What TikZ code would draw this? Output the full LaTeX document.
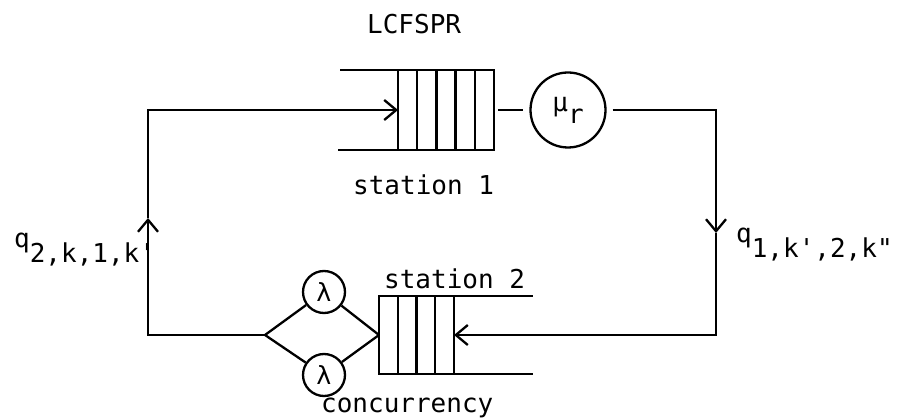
\documentclass[tikz,border=0pt]{standalone}
\usepackage{fontspec}
\setmonofont{DejaVu Sans Mono}
\usetikzlibrary{arrows.meta}
\begin{document}
\begin{tikzpicture}[x=1pt,y=-1pt,line width=2.3pt,
  txt/.style={font=\ttfamily\fontsize{26}{30}\selectfont,inner sep=0,anchor=base west},
  arr/.style={-{Straight Barb[length=12pt,width=20pt]}},
  srv/.style={circle,draw,inner sep=0},
  queue/.style={draw,inner sep=0,outer sep=0,anchor=north west}]
\useasboundingbox (0,0) rectangle (901,419);
% station 1
\node[queue,minimum width=96pt,minimum height=80pt] (q1) at (398,70) {};
\foreach \x in {417.2,436.4,455.6,474.8} \draw (\x,70) -- (\x,150);
\coordinate (q1tl) at (340,70);
\coordinate (q1bl) at (338,150);
\draw (q1tl) -- (q1.north east);
\draw (q1bl) -- (q1.south east);
\node[srv,minimum size=75pt,font=\ttfamily\fontsize{26}{30}\selectfont] (mu) at (568,110) {\raisebox{12pt}{μ}r};
\draw[shorten <=4pt,shorten >=6pt] (q1.east) -- (mu.west);
% station 2
\node[queue,minimum width=75pt,minimum height=78pt] (q2) at (379,296) {};
\foreach \x in {397.75,416.5,435.25} \draw (\x,296) -- (\x,374);
\coordinate (q2tr) at (533,296);
\coordinate (q2br) at (533,374);
\draw (q2.north west) -- (q2tr);
\draw (q2.south west) -- (q2br);
\node[srv,minimum size=42pt,font=\ttfamily\fontsize{25}{28}\selectfont] (l1) at (324,292) {λ};
\node[srv,minimum size=42pt,font=\ttfamily\fontsize{25}{28}\selectfont] (l2) at (324,375) {λ};
\coordinate (dl) at (265,335);
\draw (dl) -- (l1) -- (q2.west);
\draw (dl) -- (l2) -- (q2.west);
% loop
\coordinate (tr) at (716,110);
\coordinate (rarr) at (716,233);
\coordinate (br) at (716,335);
\coordinate (bl) at (148,335);
\coordinate (larr) at (148,218);
\coordinate (tl) at (148,110);
\draw[arr,shorten <=6pt] (mu.east) -- (tr) -- (rarr);
\draw[arr] (rarr) -- (br) -- (q2.east);
\draw[arr] (dl) -- (bl) -- (larr);
\draw[arr] (larr) -- (tl) -- (q1.west);
% labels
\node[txt] (t0) at (366,34) {LCFSPR};
\node[txt] (t1) at (352,195) {station 1};
\node[txt] (t2) at (383,288) {station 2};
\node[txt] (t3) at (320,412) {concurrency};
\node[txt] (ql) at (13,263) {\raisebox{15pt}{q}2,k,1,k'};
\node[txt] (qr) at (735,258) {\raisebox{15pt}{q}1,k',2,k"};
\end{tikzpicture}
\end{document}
